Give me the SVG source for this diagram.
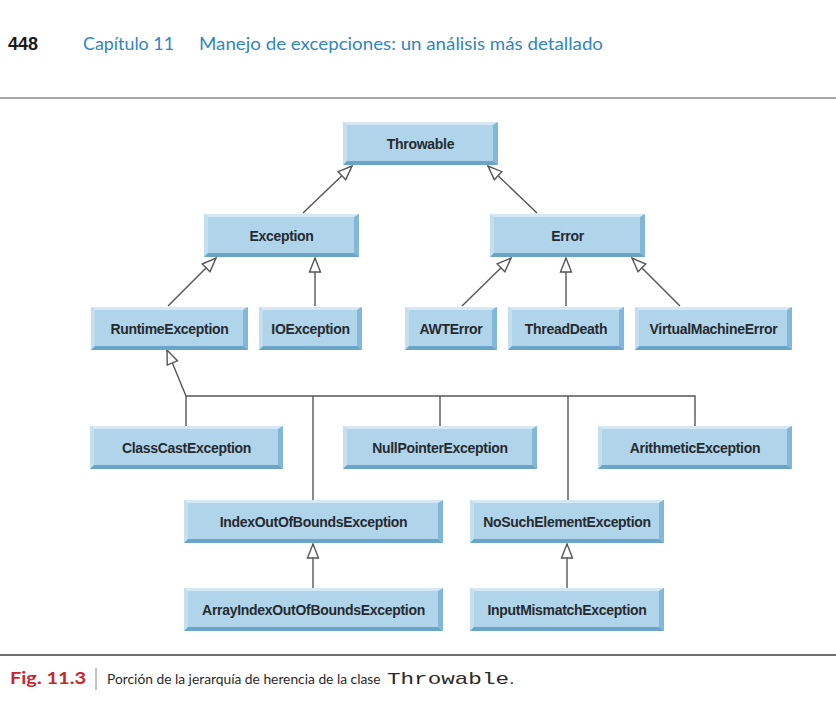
<svg xmlns="http://www.w3.org/2000/svg" width="836" height="712" viewBox="0 0 836 712">
<defs>
<style>
.face{fill:#b0d4e9}
.tp{fill:#d4e9f5}
.lf{fill:#c3dff0}
.rt{fill:#82b7d8}
.bt{fill:#6aa4c9}
.lbl{font-family:"Liberation Sans",Arial,sans-serif;font-weight:bold;font-size:14px;fill:#262a30;text-anchor:middle;letter-spacing:-0.3px}
.conn{fill:none;stroke:#555;stroke-width:1.4}
.hdr{font-family:"Lato","Liberation Sans",sans-serif;font-size:18px;fill:#2f86c2}
.cap{font-family:"Lato","Liberation Sans",sans-serif;font-size:13.8px;fill:#2a2a2a}
</style>
<marker id="tri" markerUnits="userSpaceOnUse" markerWidth="16" markerHeight="14" viewBox="0 0 16 14" refX="15" refY="7" orient="auto">
<path d="M1,1.5 L15,7 L1,12.5 Z" fill="#fff" stroke="#555" stroke-width="1.4"/>
</marker>
</defs>
<rect width="836" height="712" fill="#fff"/>

<g id="header">
<text x="8" y="50" font-family="Liberation Sans,Arial,sans-serif" font-weight="bold" font-size="18" fill="#1a1a1a">448</text>
<text x="83" y="50" class="hdr" textLength="91" lengthAdjust="spacingAndGlyphs">Capítulo 11</text>
<text x="199" y="50" class="hdr" textLength="404" lengthAdjust="spacingAndGlyphs">Manejo de excepciones: un análisis más detallado</text>
<line x1="0" y1="98" x2="836" y2="98" stroke="#8a8a8a" stroke-width="1.5"/>
</g>

<g id="connectors">
<line class="conn" x1="303" y1="213" x2="352" y2="166" marker-end="url(#tri)"/>
<line class="conn" x1="537" y1="213" x2="488" y2="166" marker-end="url(#tri)"/>
<line class="conn" x1="168" y1="306" x2="216" y2="258" marker-end="url(#tri)"/>
<line class="conn" x1="315" y1="306" x2="315" y2="258" marker-end="url(#tri)"/>
<line class="conn" x1="462" y1="306" x2="511" y2="258" marker-end="url(#tri)"/>
<line class="conn" x1="566" y1="306" x2="566" y2="258" marker-end="url(#tri)"/>
<line class="conn" x1="680" y1="306" x2="632" y2="258" marker-end="url(#tri)"/>
<path class="conn" d="M186,426 V396 H695 V426"/>
<line class="conn" x1="313" y1="396" x2="313" y2="500"/>
<line class="conn" x1="440" y1="396" x2="440" y2="426"/>
<line class="conn" x1="568" y1="396" x2="568" y2="500"/>
<line class="conn" x1="186" y1="396" x2="167" y2="350" marker-end="url(#tri)"/>
<line class="conn" x1="313" y1="588" x2="313" y2="544" marker-end="url(#tri)"/>
<line class="conn" x1="567" y1="588" x2="567" y2="544" marker-end="url(#tri)"/>
</g>

<g id="Throwable" transform="translate(343,122)">
<rect width="155" height="43" class="face"/>
<polygon class="tp" points="0,0 155,0 150,3 4,3"/><polygon class="lf" points="0,0 4,3 4,39 0,43"/>
<polygon class="rt" points="155,0 155,43 150,39 150,3"/><polygon class="bt" points="0,43 155,43 150,39 4,39"/>
<text x="77.5" y="26.5" class="lbl">Throwable</text>
</g>

<g id="Exception" transform="translate(204,214)">
<rect width="155" height="43" class="face"/>
<polygon class="tp" points="0,0 155,0 150,3 4,3"/><polygon class="lf" points="0,0 4,3 4,39 0,43"/>
<polygon class="rt" points="155,0 155,43 150,39 150,3"/><polygon class="bt" points="0,43 155,43 150,39 4,39"/>
<text x="77.5" y="26.5" class="lbl">Exception</text>
</g>

<g id="Error" transform="translate(490,214)">
<rect width="155" height="43" class="face"/>
<polygon class="tp" points="0,0 155,0 150,3 4,3"/><polygon class="lf" points="0,0 4,3 4,39 0,43"/>
<polygon class="rt" points="155,0 155,43 150,39 150,3"/><polygon class="bt" points="0,43 155,43 150,39 4,39"/>
<text x="77.5" y="26.5" class="lbl">Error</text>
</g>

<g id="RuntimeException" transform="translate(91,307)">
<rect width="157" height="43" class="face"/>
<polygon class="tp" points="0,0 157,0 152,3 4,3"/><polygon class="lf" points="0,0 4,3 4,39 0,43"/>
<polygon class="rt" points="157,0 157,43 152,39 152,3"/><polygon class="bt" points="0,43 157,43 152,39 4,39"/>
<text x="78.5" y="26.5" class="lbl">RuntimeException</text>
</g>

<g id="IOException" transform="translate(259,307)">
<rect width="103" height="43" class="face"/>
<polygon class="tp" points="0,0 103,0 98,3 4,3"/><polygon class="lf" points="0,0 4,3 4,39 0,43"/>
<polygon class="rt" points="103,0 103,43 98,39 98,3"/><polygon class="bt" points="0,43 103,43 98,39 4,39"/>
<text x="51.5" y="26.5" class="lbl">IOException</text>
</g>

<g id="AWTError" transform="translate(405,307)">
<rect width="92" height="43" class="face"/>
<polygon class="tp" points="0,0 92,0 87,3 4,3"/><polygon class="lf" points="0,0 4,3 4,39 0,43"/>
<polygon class="rt" points="92,0 92,43 87,39 87,3"/><polygon class="bt" points="0,43 92,43 87,39 4,39"/>
<text x="46" y="26.5" class="lbl">AWTError</text>
</g>

<g id="ThreadDeath" transform="translate(508,307)">
<rect width="116" height="43" class="face"/>
<polygon class="tp" points="0,0 116,0 111,3 4,3"/><polygon class="lf" points="0,0 4,3 4,39 0,43"/>
<polygon class="rt" points="116,0 116,43 111,39 111,3"/><polygon class="bt" points="0,43 116,43 111,39 4,39"/>
<text x="58" y="26.5" class="lbl">ThreadDeath</text>
</g>

<g id="VirtualMachineError" transform="translate(635,307)">
<rect width="157" height="43" class="face"/>
<polygon class="tp" points="0,0 157,0 152,3 4,3"/><polygon class="lf" points="0,0 4,3 4,39 0,43"/>
<polygon class="rt" points="157,0 157,43 152,39 152,3"/><polygon class="bt" points="0,43 157,43 152,39 4,39"/>
<text x="78.5" y="26.5" class="lbl">VirtualMachineError</text>
</g>

<g id="ClassCastException" transform="translate(90,426)">
<rect width="193" height="43" class="face"/>
<polygon class="tp" points="0,0 193,0 188,3 4,3"/><polygon class="lf" points="0,0 4,3 4,39 0,43"/>
<polygon class="rt" points="193,0 193,43 188,39 188,3"/><polygon class="bt" points="0,43 193,43 188,39 4,39"/>
<text x="96.5" y="26.5" class="lbl">ClassCastException</text>
</g>

<g id="NullPointerException" transform="translate(343,426)">
<rect width="194" height="43" class="face"/>
<polygon class="tp" points="0,0 194,0 189,3 4,3"/><polygon class="lf" points="0,0 4,3 4,39 0,43"/>
<polygon class="rt" points="194,0 194,43 189,39 189,3"/><polygon class="bt" points="0,43 194,43 189,39 4,39"/>
<text x="97" y="26.5" class="lbl">NullPointerException</text>
</g>

<g id="ArithmeticException" transform="translate(598,426)">
<rect width="194" height="43" class="face"/>
<polygon class="tp" points="0,0 194,0 189,3 4,3"/><polygon class="lf" points="0,0 4,3 4,39 0,43"/>
<polygon class="rt" points="194,0 194,43 189,39 189,3"/><polygon class="bt" points="0,43 194,43 189,39 4,39"/>
<text x="97" y="26.5" class="lbl">ArithmeticException</text>
</g>

<g id="IndexOutOfBoundsException" transform="translate(184,500)">
<rect width="259" height="43" class="face"/>
<polygon class="tp" points="0,0 259,0 254,3 4,3"/><polygon class="lf" points="0,0 4,3 4,39 0,43"/>
<polygon class="rt" points="259,0 259,43 254,39 254,3"/><polygon class="bt" points="0,43 259,43 254,39 4,39"/>
<text x="129.5" y="26.5" class="lbl">IndexOutOfBoundsException</text>
</g>

<g id="NoSuchElementException" transform="translate(470,500)">
<rect width="194" height="43" class="face"/>
<polygon class="tp" points="0,0 194,0 189,3 4,3"/><polygon class="lf" points="0,0 4,3 4,39 0,43"/>
<polygon class="rt" points="194,0 194,43 189,39 189,3"/><polygon class="bt" points="0,43 194,43 189,39 4,39"/>
<text x="97" y="26.5" class="lbl">NoSuchElementException</text>
</g>

<g id="ArrayIndexOutOfBoundsException" transform="translate(184,588)">
<rect width="259" height="43" class="face"/>
<polygon class="tp" points="0,0 259,0 254,3 4,3"/><polygon class="lf" points="0,0 4,3 4,39 0,43"/>
<polygon class="rt" points="259,0 259,43 254,39 254,3"/><polygon class="bt" points="0,43 259,43 254,39 4,39"/>
<text x="129.5" y="26.5" class="lbl">ArrayIndexOutOfBoundsException</text>
</g>

<g id="InputMismatchException" transform="translate(470,588)">
<rect width="194" height="43" class="face"/>
<polygon class="tp" points="0,0 194,0 189,3 4,3"/><polygon class="lf" points="0,0 4,3 4,39 0,43"/>
<polygon class="rt" points="194,0 194,43 189,39 189,3"/><polygon class="bt" points="0,43 194,43 189,39 4,39"/>
<text x="97" y="26.5" class="lbl">InputMismatchException</text>
</g>

<g id="caption">
<line x1="0" y1="655" x2="836" y2="655" stroke="#707070" stroke-width="2"/>
<text x="10" y="684" font-family="Lato,Liberation Sans,sans-serif" font-weight="bold" font-size="17" fill="#c9252c" textLength="76" lengthAdjust="spacingAndGlyphs">Fig. 11.3</text>
<line x1="96" y1="668" x2="96" y2="690" stroke="#888" stroke-width="1"/>
<text y="684" class="cap"><tspan x="107">Porción de la jerarquía de herencia de la clase</tspan><tspan x="387" font-family="Liberation Mono,Courier New,monospace" font-size="17" textLength="122" lengthAdjust="spacingAndGlyphs">Throwable</tspan><tspan x="510" font-size="15.5">.</tspan></text>
</g>
</svg>
